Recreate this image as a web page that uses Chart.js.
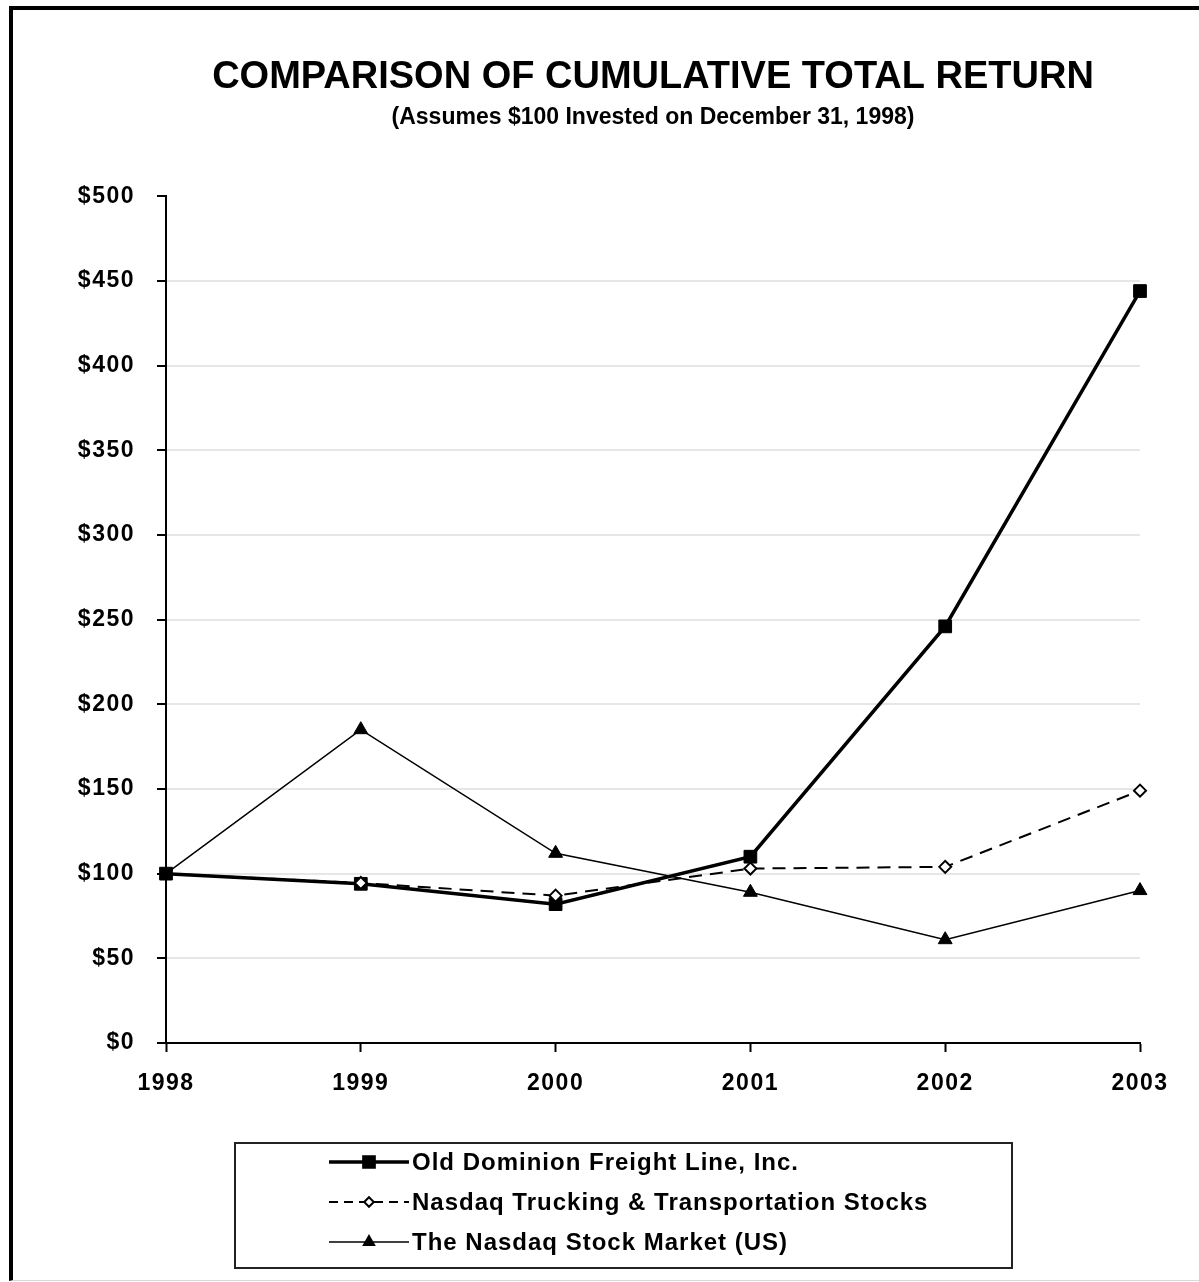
<!DOCTYPE html>
<html>
<head>
<meta charset="utf-8">
<script src="https://cdn.jsdelivr.net/npm/chart.js@4/dist/chart.umd.min.js"></script>
<style>
  html, body { margin: 0; padding: 0; background: #fff; }
  #wrap { position: relative; width: 1199px; height: 1282px; overflow: hidden; }
  #frame { position: absolute; left: 9px; top: 6px; right: -10px; bottom: 1px;
           border-left: 4px solid #000; border-top: 4px solid #000;
           border-bottom: 1px solid #d8d8d8; pointer-events: none; }
  canvas { position: absolute; left: 0; top: 0; }
</style>
</head>
<body>
<div id="wrap">
  <canvas id="chart" width="1199" height="1282"></canvas>
  <div id="frame"></div>
</div>
<script>
// values (index: $100 invested 12/31/1998)
var years = ['1998', '1999', '2000', '2001', '2002', '2003'];
var oldDominion = [100, 94, 82, 110, 246, 444];
var truckingStocks = [100, 94.5, 87, 103, 104, 149];
var nasdaqMarket = [100, 185, 112, 89, 61, 90];
var seriesNames = [
  'Old Dominion Freight Line, Inc.',
  'Nasdaq Trucking & Transportation Stocks',
  'The Nasdaq Stock Market (US)'
];

var FONT = '"Liberation Sans", Arial, sans-serif';

// the scanned original has wide-set tick labels, so space them out a bit
var spacedLabels = {
  id: 'spacedLabels',
  beforeDraw: function(chart) {
    Object.keys(chart.scales).forEach(function(id) {
      var s = chart.scales[id];
      if (s._spaced) return;
      var orig = s.drawLabels;
      s.drawLabels = function(area) {
        var c = this.ctx;
        c.save();
        c.letterSpacing = '1.5px';
        orig.call(this, area);
        c.restore();
      };
      s._spaced = true;
    });
  }
};

// legend drawn as a boxed key under the x axis
var boxLegend = {
  id: 'boxLegend',
  afterDraw: function(chart) {
    var ctx = chart.ctx;
    ctx.save();
    ctx.strokeStyle = '#222';
    ctx.lineWidth = 2;
    ctx.strokeRect(235, 1143, 777, 125);

    chart.data.datasets.forEach(function(ds, i) {
      var y = 1162 + i * 40;
      ctx.save();
      ctx.strokeStyle = '#000';
      ctx.lineWidth = ds.borderWidth;
      ctx.setLineDash(ds.legendDash || []);
      ctx.beginPath();
      ctx.moveTo(329, y);
      ctx.lineTo(409, y);
      ctx.stroke();
      ctx.setLineDash([]);
      ctx.fillStyle = ds.pointBackgroundColor;
      ctx.strokeStyle = ds.pointBorderColor;
      Chart.helpers.drawPoint(ctx, {
        pointStyle: ds.pointStyle,
        radius: ds.markerSize * 0.8,
        rotation: 0,
        borderWidth: ds.pointBorderWidth
      }, 369, y);
      ctx.restore();

      ctx.fillStyle = '#000';
      ctx.font = 'bold 24px ' + FONT;
      ctx.letterSpacing = '1px';
      ctx.textAlign = 'left';
      ctx.textBaseline = 'middle';
      ctx.fillText(ds.label, 412, y + 1);
    });
    ctx.restore();
  }
};

// first point of the index series sits under the Old Dominion square
function skipFirst(size) {
  return function(c) { return c.dataIndex === 0 ? 0 : size; };
}

var ctx = document.getElementById('chart');
var chart = new Chart(ctx, {
  type: 'line',
  data: {
    labels: years,
    datasets: [
      {
        label: seriesNames[0],
        data: oldDominion,
        borderColor: '#000',
        borderWidth: 3.5,
        pointStyle: 'rect',
        markerSize: 9,
        pointRadius: 9,
        pointBackgroundColor: '#000',
        pointBorderColor: '#000',
        pointBorderWidth: 1,
        tension: 0,
        order: 3
      },
      {
        label: seriesNames[1],
        data: truckingStocks,
        borderColor: '#000',
        borderWidth: 2,
        borderDash: [13, 8],
        legendDash: [9, 6],
        pointStyle: 'rectRot',
        markerSize: 6,
        pointRadius: skipFirst(6),
        pointBackgroundColor: '#fff',
        pointBorderColor: '#000',
        pointBorderWidth: 2,
        tension: 0,
        order: 1
      },
      {
        label: seriesNames[2],
        data: nasdaqMarket,
        borderColor: '#000',
        borderWidth: 1.5,
        pointStyle: 'triangle',
        markerSize: 8,
        pointRadius: skipFirst(8),
        pointBackgroundColor: '#000',
        pointBorderColor: '#000',
        pointBorderWidth: 1,
        tension: 0,
        order: 2
      }
    ]
  },
  options: {
    responsive: false,
    animation: false,
    devicePixelRatio: 1,
    layout: { padding: { left: 0, right: 59, top: 0, bottom: 179 } },
    plugins: {
      legend: { display: false },
      tooltip: { enabled: false },
      title: {
        display: true,
        fullSize: false,
        text: 'COMPARISON OF CUMULATIVE TOTAL RETURN',
        color: '#000',
        font: { family: FONT, size: 38, weight: 'bold' },
        padding: { top: 55, bottom: 0 }
      },
      subtitle: {
        display: true,
        fullSize: false,
        text: '(Assumes $100 Invested on December 31, 1998)',
        color: '#000',
        font: { family: FONT, size: 23, weight: 'bold' },
        padding: { top: 3, bottom: 65 }
      }
    },
    scales: {
      x: {
        offset: false,
        grid: { drawOnChartArea: false, tickLength: 9, tickColor: '#000', tickWidth: 2 },
        border: { color: '#000', width: 2 },
        ticks: {
          color: '#000',
          padding: 18,
          maxRotation: 0,
          font: { family: FONT, size: 23, weight: 'bold' }
        },
        afterFit: function(scale) { scale.height = 60; }
      },
      y: {
        min: 0,
        max: 500,
        grid: {
          tickLength: 9,
          tickColor: '#000',
          tickWidth: 2,
          color: function(c) {
            return (c.tick && c.tick.value === 500) ? 'rgba(0,0,0,0)' : '#e6e6e6';
          },
          lineWidth: 2
        },
        border: { color: '#000', width: 2 },
        ticks: {
          stepSize: 50,
          color: '#000',
          padding: 22,
          font: { family: FONT, size: 23, weight: 'bold' },
          callback: function(v) { return '$' + v; }
        },
        afterFit: function(scale) { scale.width = 166; }
      }
    }
  },
  plugins: [spacedLabels, boxLegend]
});
</script>
</body>
</html>
